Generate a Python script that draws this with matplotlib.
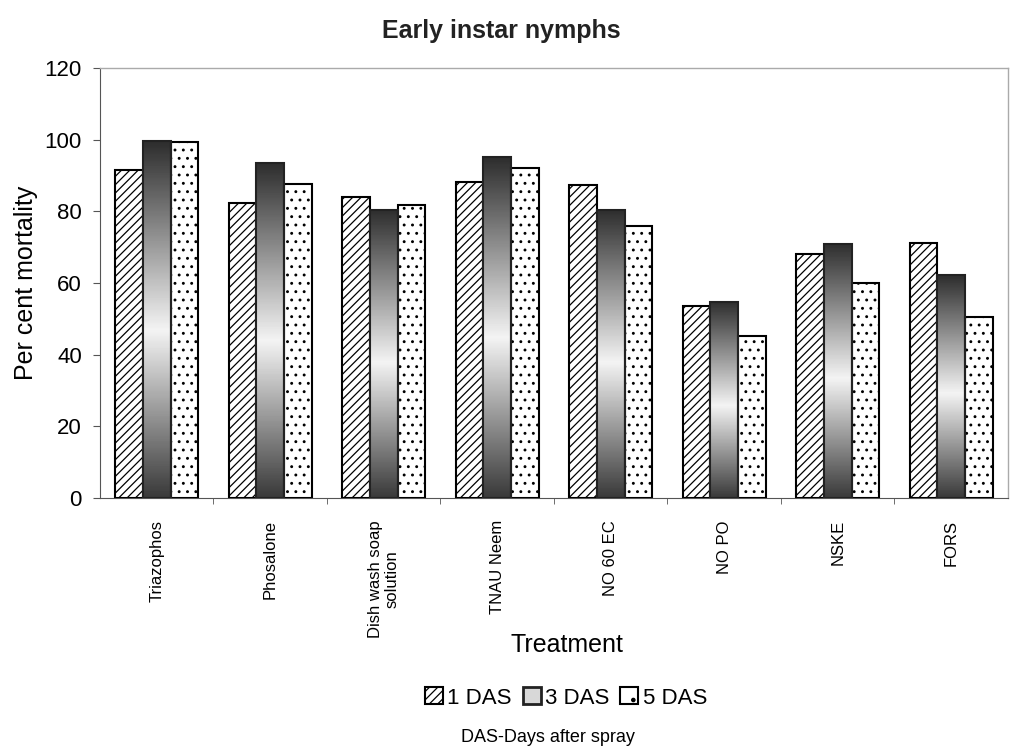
import matplotlib.pyplot as plt
import numpy as np
from matplotlib.colors import LinearSegmentedColormap
from matplotlib.patches import Patch

plt.rcParams['font.family'] = ['Liberation Sans', 'DejaVu Sans']
plt.rcParams['hatch.linewidth'] = 0.9

treatments = ["Triazophos", "Phosalone", "Dish wash soap\nsolution", "TNAU Neem",
              "NO 60 EC", "NO PO", "NSKE", "FORS"]
das1 = [91.5, 82.3, 84.1, 88.2, 87.3, 53.5, 68.2, 71.1]
das3 = [99.6, 93.4, 80.4, 95.1, 80.4, 54.8, 70.9, 62.2]
das5 = [99.4, 87.5, 81.8, 92.1, 76.0, 45.2, 59.9, 50.5]
series_labels = ["1 DAS", "3 DAS", "5 DAS"]

fig = plt.figure(figsize=(10.12, 7.52), dpi=100)
ax = fig.add_axes([100/1012, 1-498/752, 908/1012, 430/752])

x = np.arange(len(treatments))
w = 0.245

# 1 DAS: diagonal hatch
ax.bar(x - w, das1, w, facecolor="white", edgecolor="black", hatch="////", linewidth=1.5, zorder=3)

# 3 DAS: gradient fill, dark at ends and light in the middle
grad = LinearSegmentedColormap.from_list("g", [(0, "#3a3a3a"), (0.47, "#f4f4f4"), (1, "#2e2e2e")])
bars3 = ax.bar(x, das3, w, facecolor="none", edgecolor="#222222", linewidth=1.5, zorder=4)
col = np.linspace(0, 1, 200).reshape(-1, 1)
for b in bars3:
    ax.imshow(col, cmap=grad, aspect="auto", origin="lower", zorder=3,
              extent=[b.get_x(), b.get_x() + b.get_width(), 0, b.get_height()])

# 5 DAS: dotted
ax.bar(x + w, das5, w, facecolor="white", edgecolor="black", hatch="..", linewidth=1.5, zorder=3)

ax.set_xlim(-0.5, len(treatments) - 0.5)
ax.set_ylim(0, 120)
ax.set_yticks(np.arange(0, 121, 20))
ax.tick_params(axis="y", labelsize=16, direction="out", length=5, pad=8, color="#555555")
ax.set_xticks(x)
ax.set_xticklabels(treatments, rotation=90, fontsize=12, va="top", ha="center", multialignment="center")
ax.tick_params(axis="x", length=0, pad=16)
ax.set_xticks(np.arange(0.5, len(treatments) - 0.5, 1), minor=True)
ax.tick_params(axis="x", which="minor", length=4, direction="out", color="#555555")

for s in ["top", "right"]:
    ax.spines[s].set_color("#aaaaaa")
    ax.spines[s].set_linewidth(1.0)
ax.spines["left"].set_color("#555555")
ax.spines["bottom"].set_color("#555555")

ax.set_ylabel("Per cent mortality", fontsize=18, labelpad=5)

fig.text(501/1012, 1-31/752, "Early instar nymphs", fontsize=18, fontweight="bold", color="#222222",
         ha="center", va="center")
fig.text(567/1012, 1-645/752, "Treatment", fontsize=18, ha="center", va="center")

handles = [Patch(facecolor="white", edgecolor="black", hatch="////", linewidth=1.5),
           Patch(facecolor="#d8d8d8", edgecolor="#222222", linewidth=2.0),
           Patch(facecolor="white", edgecolor="black", hatch=".", linewidth=1.5)]
fig.legend(handles, series_labels, loc="center", bbox_to_anchor=(566/1012, 1-698/752), ncol=3,
           frameon=False, fontsize=16, handlelength=0.8, handleheight=0.8, handletextpad=0.2,
           columnspacing=0.5)
fig.text(548/1012, 1-738/752, "DAS-Days after spray", fontsize=13, ha="center", va="center")

fig.savefig("out.png", dpi=100)
